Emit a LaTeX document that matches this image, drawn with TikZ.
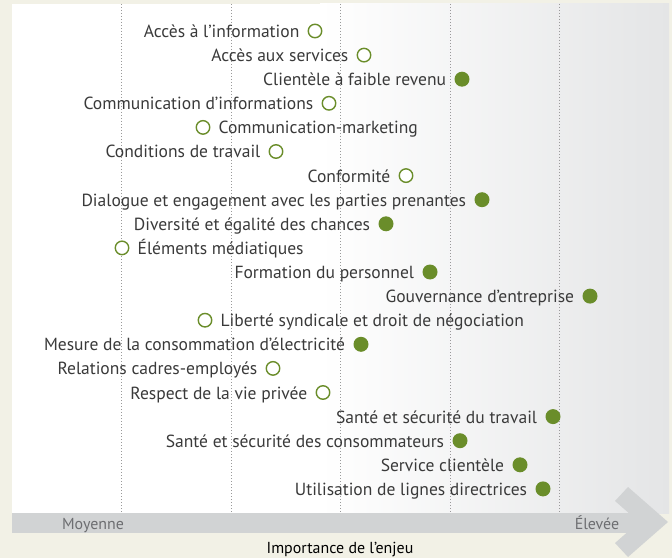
\documentclass[tikz,border=0pt]{standalone}
\usepackage{fontspec}
\setmainfont{PT Sans}
\usetikzlibrary{calc}
\definecolor{cream}{HTML}{F2F1E6}
\definecolor{panelgray}{HTML}{E4E5E6}
\definecolor{bandgray}{HTML}{D1D3D4}
\definecolor{bandtxt}{HTML}{6D6E71}
\definecolor{ggreen}{HTML}{6A8D2A}
\definecolor{txt}{HTML}{3A3A3A}
\definecolor{gridc}{HTML}{9A9A9A}
\begin{document}
\begin{tikzpicture}[x=1bp,y=-1bp,
  on/.style={circle, fill=ggreen, inner sep=0pt, minimum size=15bp},
  off/.style={circle, draw=ggreen, fill=white, line width=1.4bp, inner sep=0pt, minimum size=13.5bp},
  lbl/.style={text=txt, font=\fontsize{17.6}{17.6}\selectfont, inner sep=0pt},
  gridline/.style={gridc, line width=0.8bp, dash pattern=on 0.8bp off 2.2bp},
  axistxt/.style={text=bandtxt, font=\fontsize{16}{16}\selectfont, inner sep=0pt},
  axistitle/.style={text=black, font=\fontsize{16}{16}\selectfont, inner sep=0pt}]
\useasboundingbox (0,0) rectangle (672,558);
\fill[cream] (0,0) rectangle (672,558);
\fill[white] (12,4) rectangle (669,513);
\shade[left color=white, right color=panelgray] (320,4) rectangle (669,513);
\foreach \gx in {121,231,340,450,559} \draw[gridline] (\gx,4) -- (\gx,513);
% axis band and chevron
\fill[bandgray] (12,513) rectangle (640,533);
\fill[bandgray] (615,501) -- (628,487) -- (668,522) -- (628,557) -- (615,543) -- (639,522) -- cycle;
\node[axistxt, anchor=base] (moy) at (93,529) {Moyenne};
\node[axistxt, anchor=base] (elev) at (597,529) {Élevée};
\node[axistitle, anchor=base] (imp) at (340,553) {Importance de l’enjeu};
% items: circle x, row index, style, side, text
\foreach \cx/\i/\st/\side/\tx in {
  315/0/off/L/{Accès à l’information},
  364/1/off/L/{Accès aux services},
  462/2/on/L/{Clientèle à faible revenu},
  329/3/off/L/{Communication d’informations},
  203/4/off/R/{Communication-marketing},
  276/5/off/L/{Conditions de travail},
  406/6/off/L/{Conformité},
  482/7/on/L/{Dialogue et engagement avec les parties prenantes},
  386/8/on/L/{Diversité et égalité des chances},
  122/9/off/R/{Éléments médiatiques},
  430/10/on/L/{Formation du personnel},
  590/11/on/L/{Gouvernance d’entreprise},
  205/12/off/R/{Liberté syndicale et droit de négociation},
  361/13/on/L/{Mesure de la consommation d’électricité},
  273/14/off/L/{Relations cadres-employés},
  323/15/off/L/{Respect de la vie privée},
  553/16/on/L/{Santé et sécurité du travail},
  460/17/on/L/{Santé et sécurité des consommateurs},
  520/18/on/L/{Service clientèle},
  543/19/on/L/{Utilisation de lignes directrices}} {
  \node[\st] (c\i) at (\cx, {31+24.1*\i}) {};
  \if\side L
    \node[lbl, anchor=base east] (t\i) at ($(c\i.west)+(-8,6.5)$) {\tx};
  \else
    \node[lbl, anchor=base west] (t\i) at ($(c\i.east)+(8,6.5)$) {\tx};
  \fi
}
\end{tikzpicture}
\end{document}
